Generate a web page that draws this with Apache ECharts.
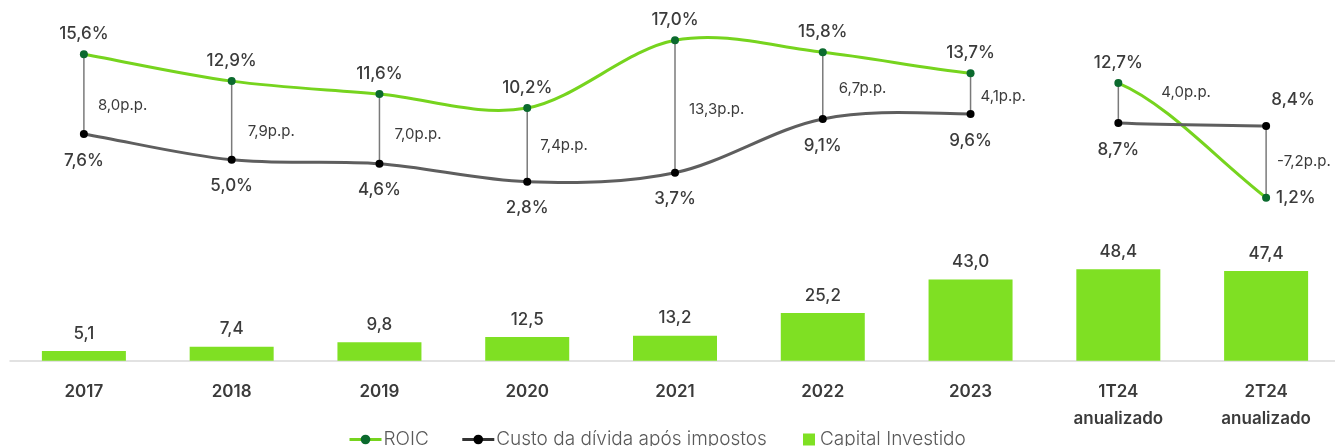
<!DOCTYPE html>
<html>
<head>
<meta charset="utf-8">
<script src="https://cdn.jsdelivr.net/npm/echarts@6/dist/echarts.min.js"></script>
<style>
  html, body { margin: 0; padding: 0; background: #fff; overflow: hidden; }
  #chart { width: 1341px; height: 446px; }
</style>
</head>
<body>
<div id="chart"></div>
<script>
// Period labels (x axis)
const categories = ['2017', '2018', '2019', '2020', '2021', '2022', '2023', '1T24\nanualizado', '2T24\nanualizado'];
// ROIC (%)
const roic = [15.6, 12.9, 11.6, 10.2, 17.0, 15.8, 13.7, 12.7, 1.2];
// Custo da dívida após impostos (%)
const custo = [7.6, 5.0, 4.6, 2.8, 3.7, 9.1, 9.6, 8.7, 8.4];
// Capital investido (R$ bi)
const capital = [5.1, 7.4, 9.8, 12.5, 13.2, 25.2, 43.0, 48.4, 47.4];
// Annual points vs. annualized quarter points (no line joins the two groups)
const annualCount = 7;

const TEXT = '#3b3b3b';
const FONT = 'Inter, "Noto Sans", sans-serif';
const GREEN_LINE = '#76d41e';
const GREEN_DOT = '#0b6a2e';
const GREEN_BAR = '#7fe023';
const GRAY_LINE = '#5e5e5e';

const fmt = (v, d) => v.toFixed(d).replace('.', ',');

// point label placement; in the last period ROIC sits below the cost of debt
function roicData() {
  return roic.map((v, i) => (i === 8 && roic[i] < custo[i])
    ? { value: v, label: { position: 'right', offset: [-2, 0] } } : v);
}
function custoData() {
  return custo.map((v, i) => (i === 8 && roic[i] < custo[i])
    ? { value: v, label: { position: 'top', offset: [27, 0] } } : v);
}

// horizontal/vertical nudges of the spread labels next to each connector
const spreadNudge = [[14, 11], [16, 11], [15, 6], [13, 1], [14, 3], [16, 3], [10, 3], [43, -11], [11, 0]];

const pctLabel = {
  show: true,
  fontFamily: FONT,
  fontSize: 17,
  fontWeight: 500,
  color: TEXT,
  formatter: p => fmt(p.value, 1) + '%'
};

// markers + value labels (the curve itself is drawn by curveSeries)
function markerSeries(name, data, dotColor, labelPos, labelDist) {
  return {
    name: name,
    type: 'line',
    xAxisIndex: 0,
    yAxisIndex: 0,
    data: data,
    symbol: 'circle',
    symbolSize: 8,
    z: 4,
    lineStyle: { opacity: 0 },
    itemStyle: { color: dotColor },
    label: Object.assign({ position: labelPos, distance: labelDist }, pctLabel),
    emphasis: { disabled: true }
  };
}

// smooth cubic Bézier through the points (tangent = (next - prev) / 6),
// the segment between the last year and the first quarter is left out
function curveSeries(name, values, color) {
  return {
    name: name,
    type: 'custom',
    xAxisIndex: 0,
    yAxisIndex: 0,
    z: 3,
    silent: true,
    data: values.slice(0, -1).map((v, i) => [i, v, values[i + 1]]),
    renderItem: function (params, api) {
      const i = api.value(0);
      if (i === annualCount - 1) return null;
      const n = values.length;
      const P = k => api.coord([k, values[Math.max(0, Math.min(n - 1, k))]]);
      const p1 = P(i), p2 = P(i + 1);
      // at the ends, mirror the neighbouring point so the tangent follows the chord
      const p0 = i > 0 ? P(i - 1) : [2 * p1[0] - p2[0], 2 * p1[1] - p2[1]];
      const p3 = i + 2 < n ? P(i + 2) : [2 * p2[0] - p1[0], 2 * p2[1] - p1[1]];
      const c1 = [p1[0] + (p2[0] - p0[0]) / 6, p1[1] + (p2[1] - p0[1]) / 6];
      const c2 = [p2[0] - (p3[0] - p1[0]) / 6, p2[1] - (p3[1] - p1[1]) / 6];
      return {
        type: 'bezierCurve',
        shape: { x1: p1[0], y1: p1[1], x2: p2[0], y2: p2[1],
                 cpx1: c1[0], cpy1: c1[1], cpx2: c2[0], cpy2: c2[1] },
        style: { stroke: color, lineWidth: 3, fill: null, lineCap: 'round' }
      };
    }
  };
}

const chart = echarts.init(document.getElementById('chart'), null, { renderer: 'canvas' });

chart.setOption({
  animation: false,
  backgroundColor: '#fff',
  grid: [
    { left: 10, right: 1, top: 10.4, height: 199.2 },
    { left: 10, right: 1, top: 247.3, height: 113.4 }
  ],
  xAxis: [
    { gridIndex: 0, type: 'category', data: categories, show: false },
    {
      gridIndex: 1, type: 'category', data: categories,
      axisLine: { lineStyle: { color: '#d9d9d9', width: 1.5 } },
      axisTick: { show: false },
      axisLabel: {
        margin: 18,
        fontFamily: FONT, fontSize: 17, fontWeight: 600, color: TEXT,
        lineHeight: 27
      }
    }
  ],
  yAxis: [
    { gridIndex: 0, type: 'value', min: 0, max: 20, show: false },
    { gridIndex: 1, type: 'value', min: 0, max: 60, show: false }
  ],
  legend: [
    {
      data: [
        { name: 'ROIC',
          itemStyle: { color: GREEN_DOT, borderWidth: 0 },
          lineStyle: { color: GREEN_LINE, width: 3, opacity: 1 } },
        { name: 'Custo da dívida após impostos',
          itemStyle: { color: '#000', borderWidth: 0 },
          lineStyle: { color: '#333', width: 3, opacity: 1 } }
      ],
      left: 343, top: 425,
      itemWidth: 32, itemHeight: 12, itemGap: 32,
      textStyle: { fontFamily: FONT, fontSize: 19, fontWeight: 300, color: '#595959', padding: [0, 0, 0, -3] }
    },
    {
      data: ['Capital Investido'],
      left: 798, top: 425,
      itemWidth: 12, itemHeight: 12,
      icon: 'rect',
      textStyle: { fontFamily: FONT, fontSize: 19, fontWeight: 300, color: '#595959' }
    }
  ],
  series: [
    markerSeries('ROIC', roicData(), GREEN_DOT, 'top', 8),
    markerSeries('Custo da dívida após impostos', custoData(), '#000', 'bottom', 14),
    curveSeries('ROIC', roic, GREEN_LINE),
    curveSeries('Custo da dívida após impostos', custo, GRAY_LINE),
    // connectors between the two rates, labelled with the spread
    {
      type: 'custom',
      xAxisIndex: 0,
      yAxisIndex: 0,
      z: 1,
      silent: true,
      data: categories.map((c, i) => [i, roic[i], custo[i]]),
      renderItem: function (params, api) {
        const i = api.value(0);
        const top = api.coord([i, api.value(1)]);
        const bot = api.coord([i, api.value(2)]);
        const spread = api.value(1) - api.value(2);
        const nudge = spreadNudge[i];
        return {
          type: 'group',
          children: [
            {
              type: 'line',
              shape: { x1: top[0], y1: top[1], x2: bot[0], y2: bot[1] },
              style: { stroke: '#7a7a7a', lineWidth: 1.5 }
            },
            {
              type: 'text',
              style: {
                text: fmt(spread, 1) + 'p.p.',
                x: top[0] + nudge[0],
                y: (top[1] + bot[1]) / 2 + nudge[1],
                fill: TEXT,
                font: '400 15px ' + FONT,
                textAlign: 'left',
                textVerticalAlign: 'middle'
              }
            }
          ]
        };
      }
    },
    {
      name: 'Capital Investido',
      type: 'bar',
      xAxisIndex: 1,
      yAxisIndex: 1,
      data: capital,
      barWidth: 84,
      itemStyle: { color: GREEN_BAR },
      label: {
        show: true,
        position: 'top',
        distance: 9,
        fontFamily: FONT, fontSize: 17, fontWeight: 500, color: TEXT,
        formatter: p => fmt(p.value, 1)
      },
      emphasis: { disabled: true }
    }
  ]
});
</script>
</body>
</html>
